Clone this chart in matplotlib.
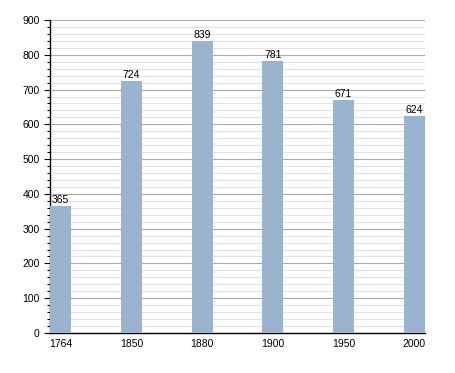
import matplotlib
matplotlib.use("Agg")
import matplotlib.pyplot as plt
from matplotlib.ticker import MultipleLocator

years = ["1764", "1850", "1880", "1900", "1950", "2000"]
population = [365, 724, 839, 781, 671, 624]

plt.rcParams['font.family'] = ['Liberation Sans', 'DejaVu Sans']
fig = plt.figure(figsize=(4.55, 3.73), dpi=100)
ax = fig.add_axes([50/455, 1-333/373, 375/455, 313/373])

x = list(range(len(years)))
bars = ax.bar(x, population, width=0.3, color="#9ab3cf", zorder=3)
for xi, v in zip(x, population):
    ax.text(xi, v + 3, str(v), ha="center", va="bottom", fontsize=7.5, zorder=4)

ax.set_xlim(-0.15, 5.15)
ax.set_ylim(0, 900)
ax.set_xticks(x)
ax.set_xticklabels(years, fontsize=7.5)
ax.yaxis.set_major_locator(MultipleLocator(100))
ax.yaxis.set_minor_locator(MultipleLocator(20))
ax.tick_params(axis='y', which='major', length=4, labelsize=7.5, direction='out', width=0.8)
ax.tick_params(axis='y', which='minor', length=2, direction='out', width=0.8)
ax.tick_params(axis='x', length=0, labelsize=7.5, pad=4)
ax.grid(axis='y', which='major', color="#aaaaaa", linewidth=0.8, zorder=0)
ax.grid(axis='y', which='minor', color="#e2e2e2", linewidth=0.8, zorder=0)
for s in ['top', 'right']:
    ax.spines[s].set_visible(False)
ax.spines['left'].set_linewidth(1.0)
ax.spines['bottom'].set_linewidth(1.0)

fig.savefig("out.png", dpi=100)
